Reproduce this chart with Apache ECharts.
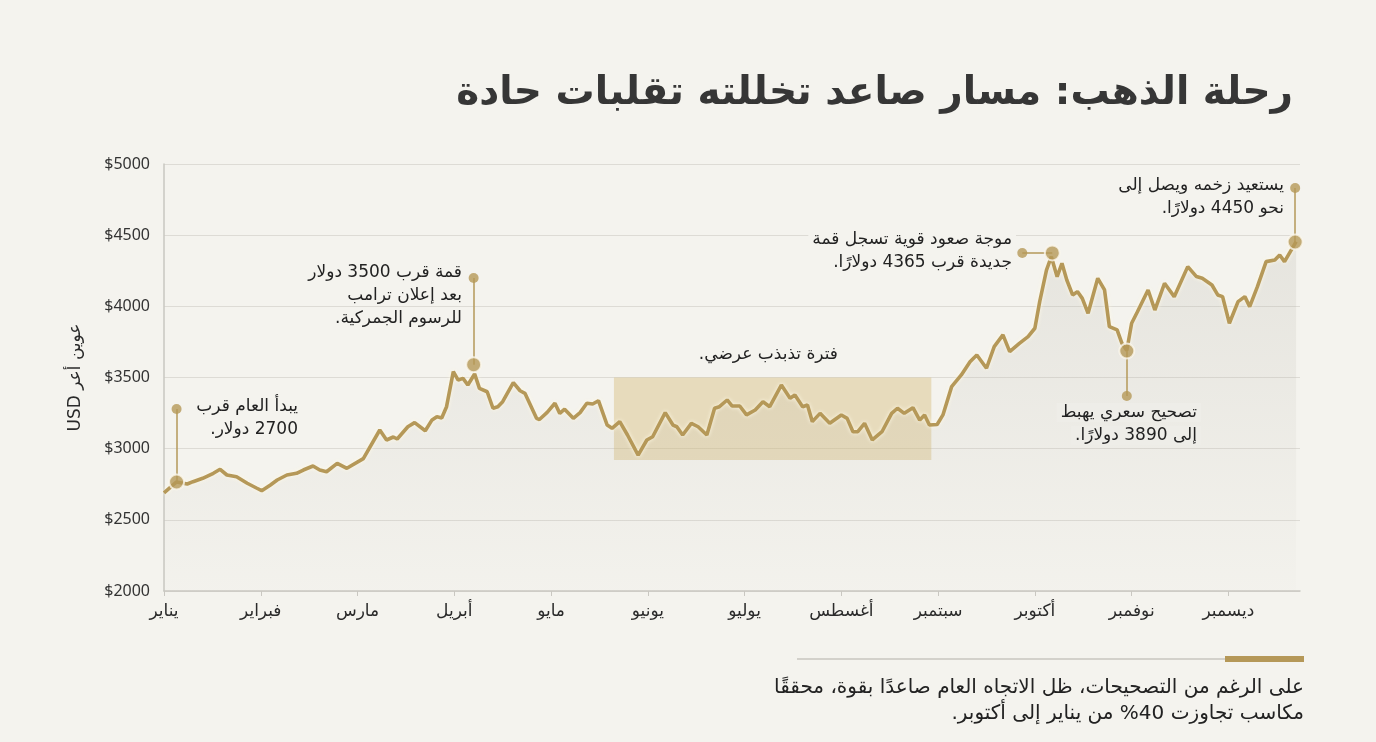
<!DOCTYPE html>
<html>
<head>
<meta charset="utf-8">
<script src="https://cdn.jsdelivr.net/npm/echarts@6.0.0/dist/echarts.min.js"></script>
<style>
  html, body { margin: 0; padding: 0; background: #f4f3ee; }
  #gold-chart { width: 1376px; height: 742px; }
</style>
</head>
<body>
<div id="gold-chart" dir="rtl"></div>
<script>
// month labels under the ticks
const months = ['يناير', 'فبراير', 'مارس', 'أبريل', 'مايو', 'يونيو', 'يوليو', 'أغسطس', 'سبتمبر', 'أكتوبر', 'نوفمبر', 'ديسمبر']

// position along the year, in months from 1 Jan
const monthPos = [
  0.00, 0.13, 0.24, 0.30, 0.40, 0.51, 0.58, 0.65, 0.75, 0.86, 0.96, 1.01, 1.10, 1.17, 1.27, 1.37,
  1.44, 1.54, 1.61, 1.68, 1.79, 1.89, 2.06, 2.23, 2.30, 2.37, 2.41, 2.52, 2.59, 2.70, 2.77, 2.82,
  2.87, 2.92, 2.99, 3.04, 3.09, 3.14, 3.21, 3.26, 3.34, 3.40, 3.45, 3.50, 3.61, 3.68, 3.73, 3.85,
  3.88, 3.96, 4.04, 4.09, 4.14, 4.23, 4.30, 4.37, 4.43, 4.49, 4.58, 4.63, 4.71, 4.79, 4.90, 4.99,
  5.05, 5.18, 5.26, 5.30, 5.36, 5.45, 5.52, 5.61, 5.69, 5.74, 5.82, 5.87, 5.95, 6.02, 6.11, 6.19,
  6.26, 6.38, 6.47, 6.52, 6.60, 6.65, 6.70, 6.78, 6.88, 7.00, 7.06, 7.12, 7.17, 7.24, 7.32, 7.42,
  7.52, 7.58, 7.65, 7.74, 7.81, 7.86, 7.91, 7.99, 8.05, 8.14, 8.24, 8.33, 8.40, 8.50, 8.58, 8.67,
  8.74, 8.84, 8.93, 9.00, 9.05, 9.12, 9.17, 9.23, 9.28, 9.33, 9.39, 9.44, 9.49, 9.55, 9.65, 9.72,
  9.77, 9.85, 9.90, 9.95, 10.00, 10.06, 10.17, 10.24, 10.34, 10.44, 10.58, 10.67, 10.73, 10.83, 10.89, 10.94,
  11.01, 11.10, 11.17, 11.22, 11.30, 11.39, 11.48, 11.53, 11.58, 11.64, 11.70
]

// gold price, USD per ounce
const price = [
  2690, 2766, 2752, 2768, 2792, 2827, 2855, 2815, 2803, 2757, 2722, 2705, 2745, 2780, 2815, 2827,
  2850, 2878, 2850, 2838, 2897, 2862, 2930, 3131, 3061, 3082, 3068, 3154, 3183, 3126, 3202, 3225,
  3215, 3295, 3541, 3482, 3494, 3447, 3525, 3424, 3400, 3284, 3295, 3330, 3464, 3407, 3389, 3213,
  3205, 3255, 3319, 3248, 3277, 3213, 3253, 3319, 3314, 3337, 3166, 3143, 3190, 3096, 2955, 3061,
  3084, 3253, 3166, 3154, 3096, 3178, 3154, 3096, 3284, 3295, 3342, 3300, 3300, 3237, 3272, 3330,
  3295, 3447, 3354, 3377, 3295, 3307, 3190, 3248, 3178, 3237, 3213, 3119, 3119, 3178, 3061, 3119,
  3248, 3284, 3248, 3288, 3201, 3237, 3166, 3170, 3237, 3436, 3518, 3611, 3658, 3565, 3717, 3799,
  3682, 3740, 3787, 3846, 4033, 4255, 4349, 4208, 4302, 4185, 4080, 4103, 4056, 3951, 4197, 4115,
  3857, 3834, 3740, 3690, 3881, 3962, 4115, 3974, 4162, 4068, 4279, 4209, 4197, 4150, 4080, 4068,
  3881, 4033, 4068, 3998, 4138, 4314, 4326, 4361, 4314, 4384, 4454
]

// sideways range box: [from month, to month], [low, high]
const rangeMonths = [4.65, 7.93]
const rangePrice = [2920, 3500]

// callouts: dot on the line, end of the leader line
const calloutDot = [[0.13, 2766], [3.20, 3590], [9.18, 4375], [9.95, 3686], [11.69, 4452]]
const calloutEnd = [[0.13, 3279], [3.20, 4199], [8.87, 4375], [9.95, 3370], [11.69, 4831]]

const GOLD = '#b59858'
const INK = '#222222'
const BG = '#f4f3ee'
const AR_FONT = '"DejaVu Sans", "Noto Sans", sans-serif'

const chart = echarts.init(document.getElementById('gold-chart'))

const lineData = monthPos.map((m, i) => [m, price[i]])
const leaders = calloutDot.map((p, i) => [{ coord: p }, { coord: calloutEnd[i] }])

// one text element per line so every line ends at the same right edge
function note(lines, rightEdge, top, opts) {
  opts = opts || {}
  const size = opts.size || 17
  const lh = opts.lh || 23
  return lines.map((t, i) => ({
    type: 'text',
    right: 1376 - rightEdge,
    top: top + i * lh,
    z: 50,
    style: {
      text: t,
      font: size + 'px ' + AR_FONT,
      fill: INK,
      backgroundColor: opts.bg || BG,
      padding: [1, 4]
    }
  }))
}

chart.setOption({
  backgroundColor: BG,
  animation: false,
  title: {
    text: 'رحلة الذهب: مسار صاعد تخللته تقلبات حادة',
    right: 78,
    top: 69,
    textStyle: {
      fontFamily: AR_FONT,
      fontSize: 39,
      fontWeight: 'bold',
      color: '#363636'
    }
  },
  grid: { left: 164, right: 76, top: 164, bottom: 151 },
  xAxis: {
    type: 'value',
    min: 0,
    max: 11.74,
    interval: 1,
    axisLine: { lineStyle: { color: '#c9c7c1', width: 1.5 } },
    axisTick: { show: true, length: 5, lineStyle: { color: '#c9c7c1' } },
    splitLine: { show: false },
    axisLabel: {
      fontFamily: AR_FONT,
      fontSize: 17,
      color: '#2a2a2a',
      margin: 12,
      showMaxLabel: false,
      formatter: v => months[Math.round(v)] || ''
    }
  },
  yAxis: {
    type: 'value',
    min: 2000,
    max: 5000,
    interval: 500,
    name: 'عوين أعر USD',
    nameLocation: 'middle',
    nameGap: 80,
    nameTextStyle: { fontFamily: AR_FONT, fontSize: 17, color: '#2a2a2a' },
    axisLine: { show: true, lineStyle: { color: '#c9c7c1', width: 1.5 } },
    axisTick: { show: false },
    splitLine: { lineStyle: { color: '#dddbd5', width: 1.2 } },
    axisLabel: {
      fontFamily: '"Noto Sans", sans-serif',
      fontSize: 16,
      color: '#333',
      margin: 14,
      formatter: v => '$' + v
    }
  },
  series: [
    {
      type: 'line',
      data: lineData,
      showSymbol: false,
      z: 3,
      lineStyle: {
        color: GOLD,
        width: 3.6,
        shadowColor: 'rgba(255,250,230,0.95)',
        shadowBlur: 4
      },
      areaStyle: {
        color: new echarts.graphic.LinearGradient(0, 0, 0, 1, [
          { offset: 0, color: 'rgba(185,182,172,0.34)' },
          { offset: 1, color: 'rgba(185,182,172,0.03)' }
        ])
      },
      markArea: {
        silent: true,
        itemStyle: { color: 'rgba(212,186,118,0.42)' },
        data: [[
          { coord: [rangeMonths[0], rangePrice[1]] },
          { coord: [rangeMonths[1], rangePrice[0]] }
        ]]
      },
      markLine: {
        silent: true,
        symbol: ['none', 'none'],
        label: { show: false },
        lineStyle: { color: GOLD, width: 1.5, type: 'solid' },
        data: leaders
      }
    },
    {
      type: 'scatter',
      data: calloutEnd,
      symbolSize: 10,
      z: 5,
      silent: true,
      itemStyle: { color: GOLD }
    },
    {
      type: 'scatter',
      data: calloutDot,
      symbolSize: 15,
      z: 6,
      silent: true,
      itemStyle: { color: GOLD, borderColor: '#fbf8ee', borderWidth: 2 }
    }
  ],
  graphic: [].concat(
    note(['يبدأ العام قرب', '2700 دولار.'], 302, 397),
    note(['قمة قرب 3500 دولار', 'بعد إعلان ترامب', 'للرسوم الجمركية.'], 466, 263),
    note(['فترة تذبذب عرضي.'], 842, 345),
    note(['موجة صعود قوية تسجل قمة', 'جديدة قرب 4365 دولارًا.'], 1016, 230),
    note(['تصحيح سعري يهبط', 'إلى 3890 دولارًا.'], 1201, 403, { bg: '#eeede8' }),
    note(['يستعيد زخمه ويصل إلى', 'نحو 4450 دولارًا.'], 1288, 176),
    [
      {
        type: 'rect',
        shape: { x: 797, y: 658, width: 507, height: 2 },
        style: { fill: '#d3d1cb' }
      },
      {
        type: 'rect',
        shape: { x: 1225, y: 656, width: 79, height: 6 },
        style: { fill: GOLD }
      }
    ],
    note(['على الرغم من التصحيحات، ظل الاتجاه العام صاعدًا بقوة، محققًا', 'مكاسب تجاوزت 40% من يناير إلى أكتوبر.'], 1308, 677, { size: 20, lh: 26 })
  )
})
</script>
</body>
</html>
